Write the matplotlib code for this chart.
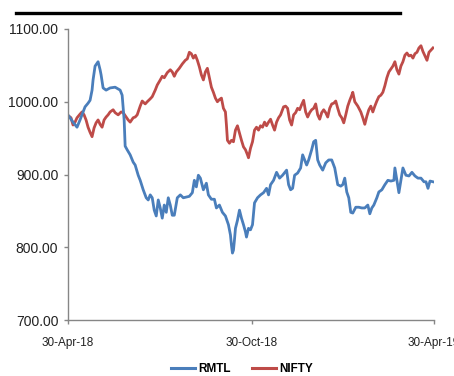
import matplotlib
matplotlib.use("Agg")
import matplotlib.pyplot as plt
from matplotlib.lines import Line2D
import pandas as pd

plt.rcParams['font.family'] = ['Liberation Sans', 'DejaVu Sans']

start_date = "2018-04-30"
end_date = "2019-04-30"
tick_dates = ["2018-04-30", "2018-10-30", "2019-04-30"]
tick_labels = ["30-Apr-18", "30-Oct-18", "30-Apr-19"]
yticks = [700, 800, 900, 1000, 1100]

rmtl_days = [1, 5, 9, 12, 17, 20, 22, 24, 25, 27, 30, 32, 33, 35, 38, 42, 47, 52, 54, 56,
             57, 59, 62, 65, 67, 70, 72, 75, 78, 80, 82, 84, 86, 88, 90, 92, 94, 96, 98, 100,
             102, 104, 106, 109, 112, 115, 118, 121, 124, 126, 128, 130, 132, 135, 138, 140,
             143, 146, 148, 151, 154, 157, 160, 162, 163, 164, 165, 166, 167, 169, 171, 173,
             175, 177, 178, 180, 182, 184, 186, 189, 192, 195, 198, 200, 202, 205, 208, 211,
             214, 218, 220, 222, 224, 226, 229, 232, 234, 236, 238, 240, 243, 245, 247, 249,
             251, 254, 257, 260, 263, 266, 269, 272, 274, 276, 278, 280, 282, 284, 287, 290,
             293, 296, 299, 301, 303, 305, 308, 310, 313, 316, 319, 322, 325, 326, 328, 330,
             332, 334, 337, 340, 343, 346, 349, 352, 355, 357, 359, 361, 364]
rmtl_vals = [980, 972, 965, 975, 993, 998, 1002, 1016, 1030, 1049, 1055, 1044, 1037, 1019,
             1016, 1019, 1020, 1016, 1009, 975, 939, 934, 927, 917, 913, 899, 892, 879, 868,
             865, 872, 868, 851, 843, 865, 854, 840, 858, 848, 868, 858, 844, 844, 868, 872,
             868, 869, 870, 875, 892, 883, 899, 895, 879, 888, 872, 866, 866, 854, 858, 848,
             843, 831, 817, 803, 792, 796, 810, 826, 837, 851, 840, 831, 821, 814, 826, 824,
             831, 861, 868, 872, 875, 881, 872, 886, 892, 903, 895, 899, 906, 886, 879, 881,
             899, 902, 909, 927, 920, 913, 920, 934, 945, 947, 920, 913, 906, 916, 920, 920,
             909, 886, 884, 886, 895, 876, 868, 848, 847, 855, 855, 854, 854, 858, 846, 854,
             858, 868, 876, 879, 886, 892, 891, 892, 909, 892, 875, 892, 909, 899, 898, 903,
             898, 895, 895, 890, 890, 881, 891, 890]

nifty_days = [1, 3, 5, 7, 9, 12, 14, 16, 18, 20, 22, 24, 26, 28, 30, 32, 34, 36, 38, 40, 42,
              45, 47, 50, 53, 55, 58, 60, 62, 65, 67, 69, 72, 74, 77, 79, 82, 84, 87, 89, 92,
              94, 96, 99, 102, 104, 106, 108, 111, 114, 117, 119, 121, 123, 125, 127, 129,
              131, 133, 135, 137, 139, 141, 143, 145, 147, 149, 151, 153, 155, 157, 158, 159,
              161, 163, 165, 167, 169, 171, 173, 175, 177, 179, 180, 182, 184, 186, 188, 190,
              192, 194, 196, 198, 200, 202, 204, 206, 208, 210, 212, 215, 217, 219, 221, 223,
              225, 227, 229, 231, 233, 235, 237, 239, 241, 243, 245, 247, 249, 251, 253, 255,
              257, 259, 261, 263, 265, 267, 269, 271, 273, 275, 277, 279, 281, 283, 284, 286,
              289, 292, 294, 296, 298, 300, 302, 304, 306, 308, 310, 312, 314, 316, 318, 320,
              322, 324, 326, 328, 330, 332, 334, 336, 338, 340, 342, 344, 346, 348, 350, 352,
              354, 356, 358, 360, 362, 364]
nifty_vals = [980, 978, 968, 972, 978, 983, 986, 982, 975, 965, 958, 952, 964, 971, 975, 969,
              965, 975, 979, 982, 986, 989, 985, 982, 986, 985, 979, 975, 972, 978, 979, 982,
              994, 1001, 997, 1000, 1004, 1007, 1016, 1023, 1030, 1035, 1033, 1040, 1044, 1041,
              1035, 1041, 1046, 1052, 1057, 1059, 1068, 1066, 1060, 1064, 1057, 1048, 1037,
              1030, 1041, 1046, 1033, 1020, 1013, 1005, 1000, 1003, 1005, 991, 986, 968, 947,
              943, 947, 945, 961, 967, 957, 947, 938, 934, 927, 923, 936, 945, 961, 965, 961,
              967, 965, 972, 967, 972, 976, 968, 961, 972, 978, 982, 993, 994, 991, 975, 968,
              982, 985, 991, 989, 996, 1002, 986, 979, 985, 989, 991, 997, 982, 976, 985, 989,
              985, 979, 991, 997, 998, 1001, 991, 982, 978, 971, 982, 994, 1002, 1009, 1013,
              1000, 994, 986, 978, 969, 980, 989, 994, 986, 994, 1001, 1007, 1009, 1013, 1022,
              1033, 1041, 1045, 1049, 1055, 1044, 1038, 1049, 1055, 1064, 1067, 1063, 1064,
              1060, 1066, 1068, 1074, 1077, 1069, 1063, 1057, 1068, 1071, 1074]

t0 = pd.Timestamp(start_date)
rmtl_dates = [t0 + pd.Timedelta(days=d) for d in rmtl_days]
nifty_dates = [t0 + pd.Timedelta(days=d) for d in nifty_days]

fig = plt.figure(figsize=(4.54, 3.76), dpi=100)
ax = fig.add_axes([68/454, 1-320/376, (434-68)/454, (320-29)/376])

blue = '#4A7EBB'
red = '#BE4B48'
ax.plot(nifty_dates, nifty_vals, color=red, lw=2.0, label='NIFTY', solid_joinstyle='round')
ax.plot(rmtl_dates, rmtl_vals, color=blue, lw=2.0, label='RMTL', solid_joinstyle='round')

ax.set_xlim(pd.Timestamp(start_date), pd.Timestamp(end_date))
ax.set_ylim(700, 1100)
ax.set_yticks(yticks)
ax.set_yticklabels([f"{v:.2f}" for v in yticks], fontsize=10, color='#222222')
ax.set_xticks([pd.Timestamp(d) for d in tick_dates])
ax.set_xticklabels(tick_labels, fontsize=8.5, color='#222222')

for s in ['top', 'right']:
    ax.spines[s].set_visible(False)
for s in ['left', 'bottom']:
    ax.spines[s].set_color('#868686')
    ax.spines[s].set_linewidth(1.0)
ax.tick_params(axis='both', color='#868686', length=3, width=1.0, direction='out')
ax.tick_params(axis='y', pad=4)
ax.tick_params(axis='x', pad=9)

handles = [Line2D([], [], color=blue, lw=2.2), Line2D([], [], color=red, lw=2.2)]
fig.legend(handles, ['RMTL', 'NIFTY'], loc='center', bbox_to_anchor=(242/454, 1-369/376),
           ncol=2, frameon=False, prop={'weight': 'bold', 'size': 8.5},
           handlelength=2.0, handletextpad=0.3, columnspacing=1.8)

fig.add_artist(Line2D([16/454, 400/454], [1-13/376, 1-13/376], color='black', lw=2.4,
                      transform=fig.transFigure))

fig.savefig('out.png', dpi=100)
